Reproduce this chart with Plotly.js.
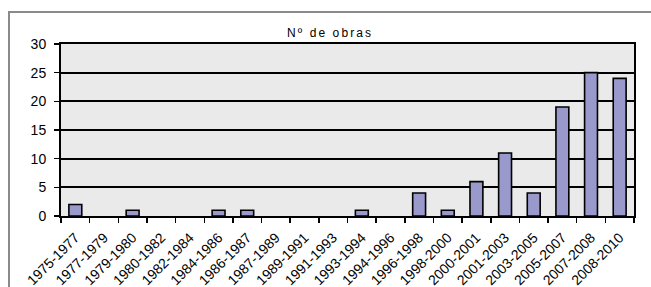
<!DOCTYPE html>
<html>
<head>
<meta charset="utf-8">
<script src="https://cdn.plot.ly/plotly-3.0.1.min.js"></script>
<style>
  html, body { margin: 0; padding: 0; background: #ffffff; }
  #wrap { position: relative; width: 651px; height: 287px; overflow: hidden; }
  #frame { position: absolute; left: 8px; top: 11px; width: 700px; height: 400px;
           border-top: 2px solid #8a8a8a; border-left: 2px solid #8a8a8a; pointer-events: none; }
  #chart { position: absolute; left: 0; top: 0; width: 651px; height: 287px; }
  .gtitle { letter-spacing: 2.1px; }
</style>
</head>
<body>
<div id="wrap">
  <div id="chart"></div>
  <div id="frame"></div>
</div>
<script>
const categories = ["1975-1977","1977-1979","1979-1980","1980-1982","1982-1984","1984-1986","1986-1987","1987-1989","1989-1991","1991-1993","1993-1994","1994-1996","1996-1998","1998-2000","2000-2001","2001-2003","2003-2005","2005-2007","2007-2008","2008-2010"];
const obras = [2,0,1,0,0,1,1,0,0,0,1,0,4,1,6,11,4,19,25,24];
const yTicks = [0,5,10,15,20,25,30];
const chartTitle = "Nº de obras";

const FONT = "'Liberation Sans', Arial, sans-serif";

const trace = {
  type: "bar",
  x: categories,
  y: obras,
  width: 0.45,
  marker: {
    color: "#9999cc",
    line: { color: "#000000", width: obras.map(v => v === 0 ? 0 : 1.6) }
  },
  hoverinfo: "x+y"
};

const layout = {
  width: 651, height: 287,
  margin: { l: 61, r: 17, t: 44, b: 71, pad: 0 },
  paper_bgcolor: "rgba(0,0,0,0)",
  plot_bgcolor: "#eaeaea",
  font: { family: FONT, color: "#000000", size: 13 },
  showlegend: false,
  title: {
    text: chartTitle,
    font: { size: 12, family: FONT, color: "#000000" },
    x: 0.507, xref: "container", xanchor: "center",
    y: 1 - 33/287, yref: "container", yanchor: "middle"
  },
  xaxis: {
    type: "category",
    tickangle: -45,
    ticks: "outside", tickson: "boundaries", ticklen: 5, tickwidth: 1.5, tickcolor: "#000",
    ticklabelstandoff: 6,
    showline: true, linecolor: "#000", linewidth: 2, mirror: true,
    showgrid: false, zeroline: false,
    tickfont: { size: 14, family: FONT },
    fixedrange: true
  },
  yaxis: {
    range: [0, 30],
    tickvals: yTicks,
    ticks: "outside", ticklen: 5, tickwidth: 1.5, tickcolor: "#000",
    ticklabelstandoff: 5,
    showline: true, linecolor: "#000", linewidth: 2, mirror: true,
    showgrid: true, gridcolor: "#000", gridwidth: 2,
    zeroline: false,
    tickfont: { size: 14, family: FONT },
    fixedrange: true
  }
};

Plotly.newPlot("chart", [trace], layout, { displayModeBar: false, staticPlot: true });
</script>
</body>
</html>
